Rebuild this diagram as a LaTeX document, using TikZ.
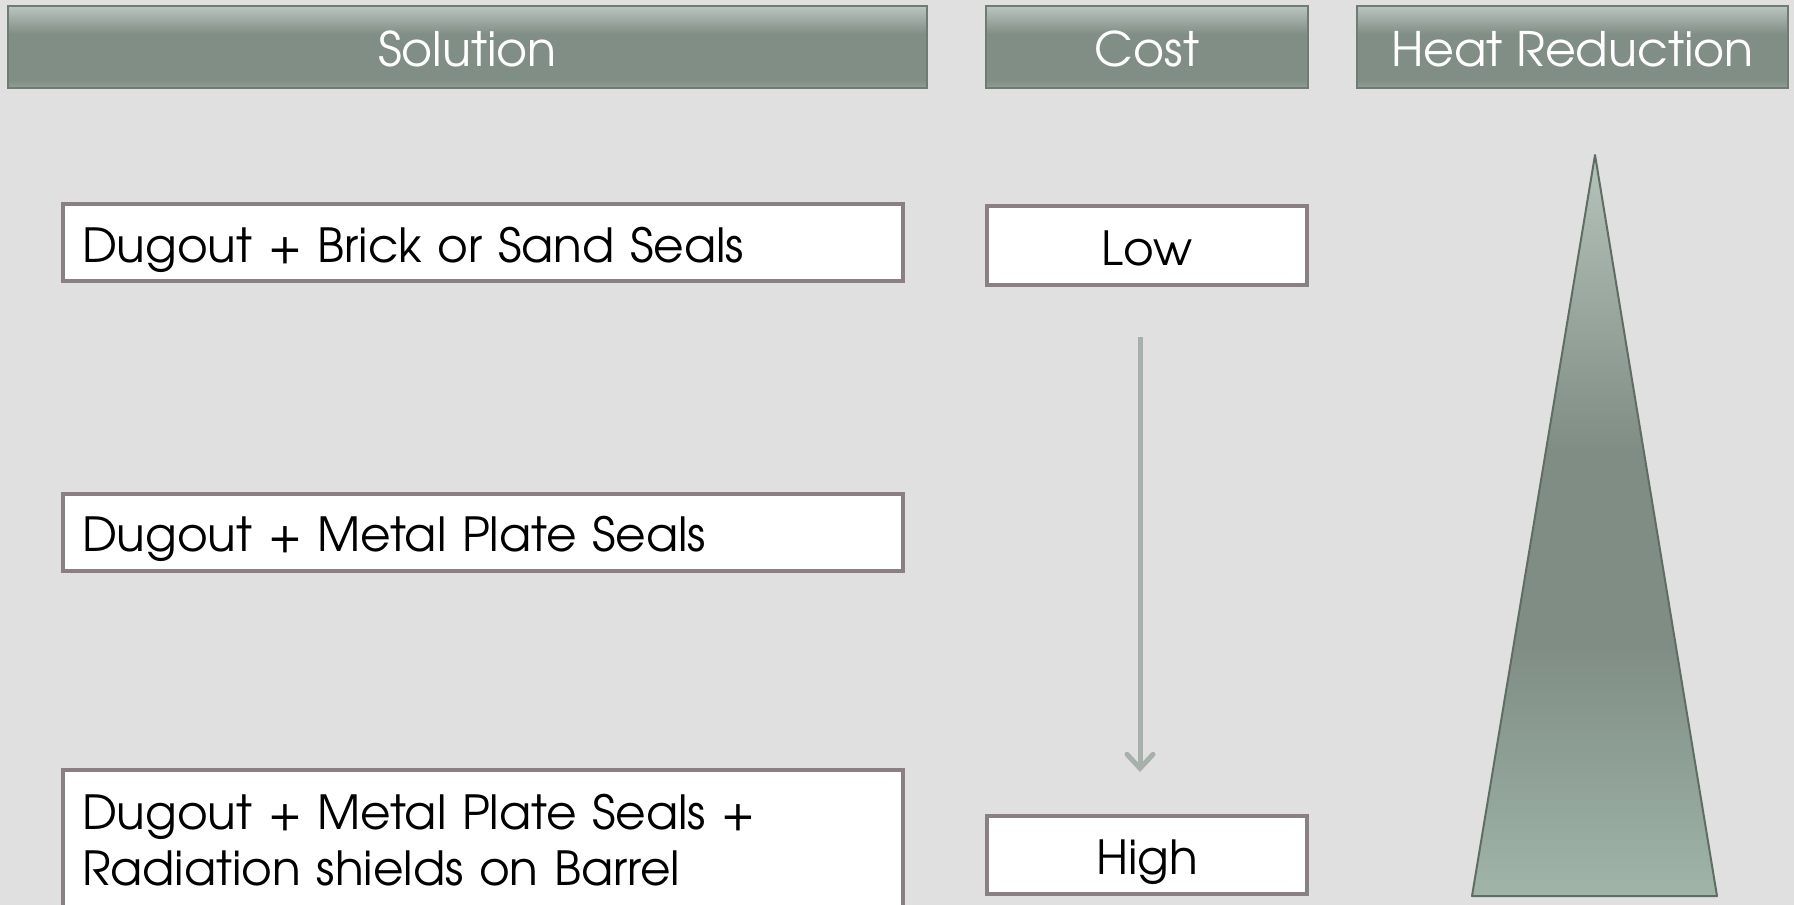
\documentclass[tikz,border=0pt]{standalone}
\usepackage{fontspec}
\setmainfont{TeX Gyre Adventor}
\usetikzlibrary{arrows.meta}
\definecolor{bg}{HTML}{E0E0E0}
\definecolor{hdrborder}{HTML}{6E7C73}
\definecolor{boxborder}{HTML}{8A7F84}
\definecolor{arrowc}{HTML}{A6B1AB}
\definecolor{triborder}{HTML}{5E6E63}
\definecolor{ht}{HTML}{BAC5BF}
\definecolor{hm}{HTML}{818E86}
\definecolor{hb}{HTML}{8EA096}
\definecolor{tt}{HTML}{B6C3BB}
\definecolor{tm}{HTML}{808D85}
\definecolor{tb}{HTML}{A0B4A8}
\pgfdeclareverticalshading{hdrshade}{100bp}{color(0bp)=(hb); color(25bp)=(hb); color(30bp)=(hm); color(58bp)=(hm); color(75bp)=(ht); color(100bp)=(ht)}
\pgfdeclareverticalshading{trishade}{100bp}{color(0bp)=(tb); color(25bp)=(tb); color(34bp)=(hb); color(42bp)=(tm); color(55bp)=(tm); color(75bp)=(tt); color(100bp)=(tt)}
\tikzset{
  oneline/.style={text height=45pt, text depth=6pt},
  hdr/.style={draw=hdrborder, line width=1.5pt, shading=hdrshade, text=white,
    font=\fontsize{47.5}{52}\selectfont, minimum height=82pt, inner sep=0pt, oneline},
  sbox/.style={draw=boxborder, line width=4pt, fill=white, text=black,
    font=\fontsize{47}{56}\selectfont, minimum height=77pt, inner sep=0pt},
  solbox/.style={sbox, minimum width=840pt, text width=802pt, align=left},
  costbox/.style={sbox, minimum width=320pt, oneline},
}
\begin{document}
\begin{tikzpicture}[x=1pt,y=-1pt]
\fill[bg] (0,0) rectangle (1794,905);
\clip (0,0) rectangle (1794,905);
\useasboundingbox (0,0) rectangle (1794,905);
% headers
\node[hdr, minimum width=919pt] (hsol) at (467.5,47) {Solution};
\node[hdr, minimum width=322pt] (hcost) at (1147,47) {Cost};
\node[hdr, minimum width=431pt] (hheat) at (1572.5,47) {Heat Reduction};
% solution boxes
\node[solbox, oneline] (s1) at (483,242.5) {Dugout + Brick or Sand Seals};
\node[solbox, oneline] (s2) at (483,532) {Dugout + Metal Plate Seals};
\node[solbox, minimum height=140pt] (s3) at (483,840) {Dugout + Metal Plate Seals +\\Radiation shields on Barrel};
% cost boxes
\node[costbox, minimum height=79pt] (low) at (1147,245.5) {Low};
\node[costbox, minimum height=78pt] (high) at (1147,855) {High};
% arrow
\coordinate (atop) at (1140,337);
\coordinate (abot) at (1140,772);
\draw[arrowc, line width=5pt, -{Straight Barb[length=14pt,width=26pt,line cap=round]}] (atop) -- (abot);
% triangle
\coordinate (apex) at (1595,155);
\coordinate (bl) at (1472,896);
\coordinate (br) at (1717,896);
\path[shading=trishade, draw=triborder, line width=2pt, line join=round] (apex) -- (br) -- (bl) -- cycle;
\end{tikzpicture}
\end{document}
